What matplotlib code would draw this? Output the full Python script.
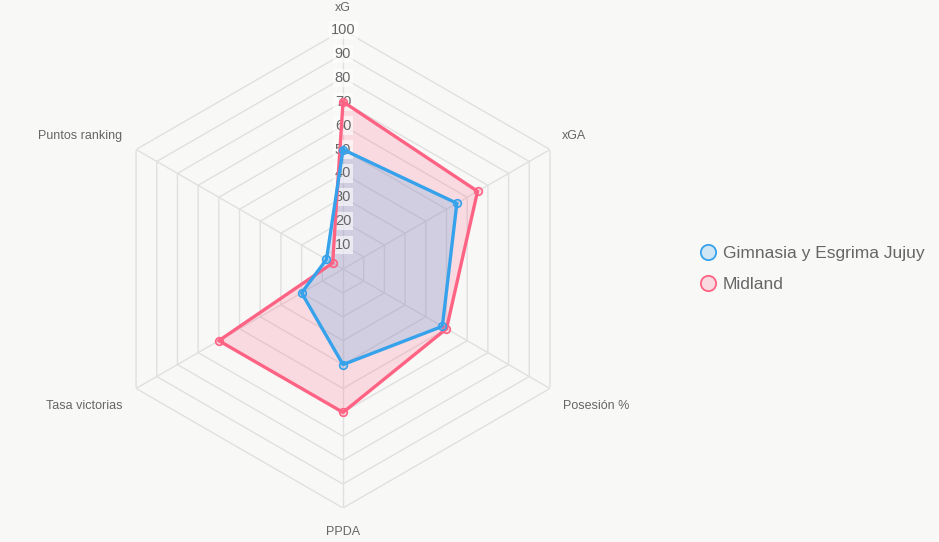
import numpy as np
import matplotlib
matplotlib.use("Agg")
import matplotlib.pyplot as plt
from matplotlib.lines import Line2D

plt.rcParams["font.family"] = ["Liberation Sans", "DejaVu Sans"]

labels = ["xG", "xGA", "Posesión %", "PPDA", "Tasa victorias", "Puntos ranking"]
gimnasia = [50, 55, 48, 40, 20, 8]
midland = [70, 65, 50, 60, 60, 5]
team_names = ["Gimnasia y Esgrima Jujuy", "Midland"]
ticks = [10, 20, 30, 40, 50, 60, 70, 80, 90, 100]

bg = "#f8f8f7"
blue = "#36a2eb"
pink = "#ff6384"
grid_col = "#e0e0e0"
text_col = "#666666"

fig = plt.figure(figsize=(9.39, 5.42), dpi=100, facecolor=bg)
ax = fig.add_axes([0.1108, 0.0627, 0.509, 0.882], projection="polar")
ax.set_facecolor(bg)
ax.set_theta_zero_location("N")
ax.set_theta_direction(-1)
ax.set_ylim(0, 100)
ax.grid(False)
ax.spines["polar"].set_visible(False)
ax.set_xticks([])
ax.set_yticks([])

n = len(labels)
angles = np.arange(n) * 2 * np.pi / n
closed = np.append(angles, angles[0])

# hexagonal grid
for t in ticks:
    ax.plot(closed, [t] * (n + 1), color=grid_col, lw=1, zorder=1)
for a in angles:
    ax.plot([a, a], [0, 100], color=grid_col, lw=1, zorder=1)

# tick labels with backdrop (above fill, below lines)
for t in ticks:
    ax.text(0, t, str(t), ha="center", va="center", fontsize=10.5, color=text_col,
            zorder=2.5, bbox=dict(boxstyle="square,pad=0.15", fc=(1, 1, 1, 0.6), ec="none"))

# series (first dataset drawn on top)
for vals, col in [(midland, pink), (gimnasia, blue)]:
    v = np.append(vals, vals[0])
    ax.fill(closed, v, color=col, alpha=0.2, lw=0, zorder=2)
    ax.plot(closed, v, color=col, lw=2.4, zorder=3)
    ax.plot(angles, vals, "o", ms=5.5, mfc=matplotlib.colors.to_rgba(col, 0.2),
            mec=col, mew=1.2, zorder=4)

# point labels
offsets = [(0, 22, "center"), (12, 14, "left"), (13, -18, "left"),
           (0, -24, "center"), (-14, -18, "right"), (-14, 14, "right")]
for a, lab, (dx, dy, ha) in zip(angles, labels, offsets):
    ax.annotate(lab, xy=(a, 100), xytext=(dx, dy), textcoords="offset pixels",
                ha=ha, va="center", fontsize=9, color=text_col, annotation_clip=False)

handles = [Line2D([], [], ls="none", marker="o", ms=11,
                  mfc=matplotlib.colors.to_rgba(c, 0.2), mec=c, mew=1.3)
           for c in [blue, pink]]
fig.legend(handles, team_names, loc="center left", bbox_to_anchor=(0.728, 0.504),
           frameon=False, fontsize=12.5, labelcolor=text_col, handletextpad=0.35,
           handlelength=1.0, labelspacing=0.9)

fig.savefig("out.png", dpi=100, facecolor=bg)
